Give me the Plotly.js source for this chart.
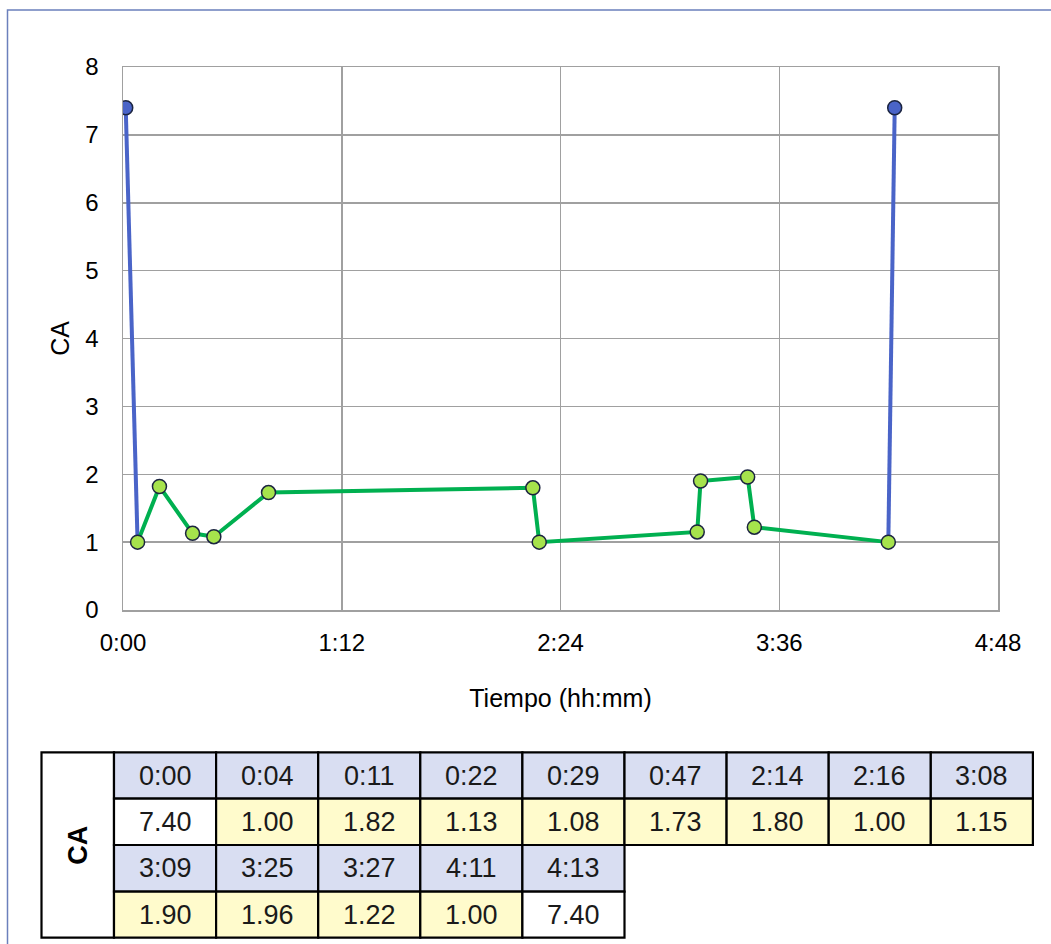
<!DOCTYPE html>
<html>
<head>
<meta charset="utf-8">
<script src="https://cdn.plot.ly/plotly-3.0.1.min.js"></script>
<style>html,body{margin:0;padding:0;background:#fff;}#chart{width:1051px;height:944px;}</style>
</head>
<body>
<div id="chart"></div>
<script>
// Elapsed time in minutes and CA values
var tiempoMin = [0.9, 4.8, 12.0, 22.9, 29.9, 47.9, 134.9, 137.0, 189.0, 190.1, 205.6, 207.8, 251.9, 254.0];
var caValores = [7.40, 1.00, 1.82, 1.13, 1.08, 1.73, 1.80, 1.00, 1.15, 1.90, 1.96, 1.22, 1.00, 7.40];
// Labels shown in the data table
var tablaTiempos = ['0:00','0:04','0:11','0:22','0:29','0:47','2:14','2:16','3:08','3:09','3:25','3:27','4:11','4:13'];
// Which points belong to the blue (extreme) series
var serieAzul = [true,false,false,false,false,false,false,false,false,false,false,false,false,true];
// x axis ticks
var xTickVals = [0, 72, 144, 216, 288];
var xTickText = ['0:00','1:12','2:24','3:36','4:48'];

var FONT = 'Liberation Sans, Arial, sans-serif';
var n = tiempoMin.length;

// blue connecting segments: first two and last two points
var blueX = [tiempoMin[0], tiempoMin[1], null, tiempoMin[n-2], tiempoMin[n-1]];
var blueY = [caValores[0], caValores[1], null, caValores[n-2], caValores[n-1]];
var greenX = tiempoMin.slice(1, n-1);
var greenY = caValores.slice(1, n-1);
var bmX = [], bmY = [];
for (var i = 0; i < n; i++) if (serieAzul[i]) { bmX.push(tiempoMin[i]); bmY.push(caValores[i]); }

var traces = [
  {x: blueX, y: blueY, type: 'scatter', mode: 'lines', line: {color: '#4A64C8', width: 4}, connectgaps: false, hoverinfo: 'skip', showlegend: false},
  {x: greenX, y: greenY, type: 'scatter', mode: 'lines+markers', line: {color: '#00B050', width: 4},
   marker: {size: 14, color: '#A6E34C', line: {color: '#1B2440', width: 1.5}}, showlegend: false},
  {x: bmX, y: bmY, type: 'scatter', mode: 'markers',
   marker: {size: 14, color: '#4A64C8', line: {color: '#1B2440', width: 1.5}}, showlegend: false}
];

// plot area in pixels
var PL = 123, PR = 998, PT = 67, PB = 610;
function X(px) { return (px - PL) / (PR - PL); }
function Y(py) { return (PB - py) / (PB - PT); }

var shapes = [];
var annotations = [];

// outer chart border
shapes.push({type: 'rect', xref: 'paper', yref: 'paper', x0: X(7.5), x1: X(1060), y0: Y(10), y1: Y(960),
  line: {color: '#6B80BC', width: 1.5}, fillcolor: 'rgba(0,0,0,0)', layer: 'below'});

// data table
var tabL = 41.5, labR = 114, colW = 102.1;
var rowTops = [752.3, 798.7, 845, 891.7, 937.7];
var perRow = 9;
var BORDER = {color: '#000', width: 2.2};
var TFONT = {family: FONT, size: 27, color: '#1a1a1a'};
shapes.push({type: 'rect', xref: 'paper', yref: 'paper', x0: X(tabL), x1: X(labR), y0: Y(rowTops[0]), y1: Y(rowTops[4]),
  line: BORDER, fillcolor: '#FFFFFF'});
annotations.push({xref: 'paper', yref: 'paper', x: X((tabL + labR) / 2), y: Y((rowTops[0] + rowTops[4]) / 2),
  xanchor: 'center', yanchor: 'middle',
  text: '<b>CA</b>', showarrow: false, textangle: -90, font: {family: FONT, size: 27, color: '#000'}});

for (var k = 0; k < n; k++) {
  var block = Math.floor(k / perRow);
  var col = k % perRow;
  var x0 = labR + col * colW, x1 = x0 + colW;
  var hTop = rowTops[block * 2], hBot = rowTops[block * 2 + 1], vBot = rowTops[block * 2 + 2];
  shapes.push({type: 'rect', xref: 'paper', yref: 'paper', x0: X(x0), x1: X(x1), y0: Y(hTop), y1: Y(hBot),
    line: BORDER, fillcolor: '#D9DEF2'});
  shapes.push({type: 'rect', xref: 'paper', yref: 'paper', x0: X(x0), x1: X(x1), y0: Y(hBot), y1: Y(vBot),
    line: BORDER, fillcolor: serieAzul[k] ? '#FFFFFF' : '#FFFBCC'});
  annotations.push({xref: 'paper', yref: 'paper', x: X((x0 + x1) / 2), y: Y((hTop + hBot) / 2),
    xanchor: 'center', yanchor: 'middle',
    text: tablaTiempos[k], showarrow: false, font: TFONT});
  annotations.push({xref: 'paper', yref: 'paper', x: X((x0 + x1) / 2), y: Y((hBot + vBot) / 2),
    xanchor: 'center', yanchor: 'middle',
    text: caValores[k].toFixed(2), showarrow: false, font: TFONT});
}

var layout = {
  width: 1051, height: 944,
  margin: {l: PL, r: 1051 - PR, t: PT, b: 944 - PB, pad: 0},
  paper_bgcolor: '#FFFFFF', plot_bgcolor: '#FFFFFF',
  font: {family: FONT, size: 24, color: '#000'},
  xaxis: {range: [0, 288], tickvals: xTickVals, ticktext: xTickText, showgrid: true, gridcolor: '#A0A0A0', gridwidth: 1.5,
    showline: true, linecolor: '#A0A0A0', linewidth: 1.5, mirror: true, zeroline: false,
    ticks: 'outside', ticklen: 11, tickcolor: 'rgba(0,0,0,0)',
    tickfont: {family: FONT, size: 24, color: '#000'},
    title: {text: 'Tiempo (hh:mm)', font: {family: FONT, size: 25, color: '#000'}, standoff: 34}},
  yaxis: {range: [0, 8], dtick: 1, tick0: 0, showgrid: true, gridcolor: '#A0A0A0', gridwidth: 1.5,
    showline: true, linecolor: '#A0A0A0', linewidth: 1.5, mirror: true, zeroline: false,
    ticks: 'outside', ticklen: 18, tickcolor: 'rgba(0,0,0,0)',
    tickfont: {family: FONT, size: 24, color: '#000'},
    title: {text: 'CA', font: {family: FONT, size: 25, color: '#000'}, standoff: 8}},
  shapes: shapes,
  annotations: annotations
};

Plotly.newPlot('chart', traces, layout, {displayModeBar: false, staticPlot: true});
</script>
</body>
</html>
